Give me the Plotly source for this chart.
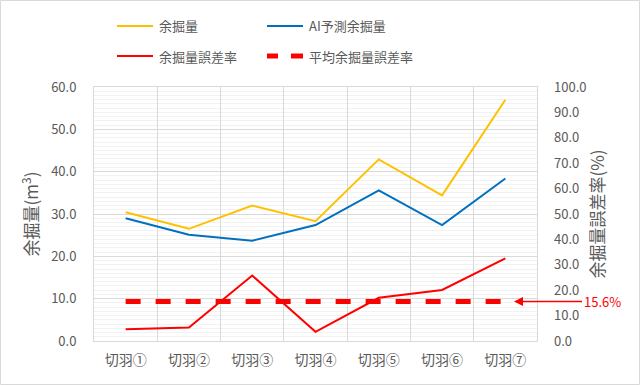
import plotly.graph_objects as go

categories = ["切羽①", "切羽②", "切羽③", "切羽④", "切羽⑤", "切羽⑥", "切羽⑦"]
actual = [30.4, 26.5, 32.0, 28.3, 42.9, 34.4, 57.0]
predicted = [29.0, 25.1, 23.7, 27.4, 35.6, 27.4, 38.4]
error_rate = [4.6, 5.3, 25.8, 3.6, 17.0, 20.1, 32.5]
avg_error = 15.6
avg_line = [avg_error] * len(categories)
series_names = ["余掘量", "AI予測余掘量", "余掘量誤差率", "平均余掘量誤差率"]

W, H = 640, 385
L, R, T, B = 94, 103, 87, 44
pw, ph = W - L - R, H - T - B

def px(x):
    return (x - L) / pw

def py(y):
    return (H - B - y) / ph

font = "Noto Sans CJK JP"
gray = "#595959"
colors = ["#FFC000", "#0070C0", "#FF0000", "#FF0000"]

fig = go.Figure()
fig.add_trace(go.Scatter(x=categories, y=actual, name=series_names[0], mode="lines",
                         line=dict(color=colors[0], width=2)))
fig.add_trace(go.Scatter(x=categories, y=predicted, name=series_names[1], mode="lines",
                         line=dict(color=colors[1], width=2)))
fig.add_trace(go.Scatter(x=categories, y=error_rate, name=series_names[2], mode="lines",
                         line=dict(color=colors[2], width=2), yaxis="y2"))
fig.add_trace(go.Scatter(x=categories, y=avg_line, name=series_names[3], mode="lines",
                         line=dict(color=colors[3], width=5, dash="15px,15px"), yaxis="y2"))

fig.update_layout(
    width=W, height=H,
    margin=dict(l=L, r=R, t=T, b=B),
    paper_bgcolor="white", plot_bgcolor="white",
    font=dict(family=font, color=gray, size=13),
    showlegend=False,
    xaxis=dict(type="category", tickson="boundaries", showgrid=True, gridcolor="#D9D9D9",
               gridwidth=1, showline=True, linecolor="#D9D9D9", mirror=True, ticks="",
               automargin=False, ticklabelstandoff=6,
               tickfont=dict(size=14, color=gray), range=[-0.5, 6.5]),
    yaxis=dict(range=[0, 60], dtick=10, tickformat=".1f", showgrid=True, gridcolor="#D9D9D9",
               gridwidth=1, zeroline=False, showline=True, linecolor="#D9D9D9", mirror=True,
               ticks="", ticklabelstandoff=14, tickfont=dict(size=13, color=gray),
               automargin=False,
               minor=dict(dtick=1, showgrid=True, gridcolor="#F2F2F2", gridwidth=1),
               title=dict(text="余掘量(m<sup>3</sup>)", font=dict(size=17, color=gray), standoff=8)),
    yaxis2=dict(range=[0, 100], dtick=10, tickformat=".1f", overlaying="y", side="right",
                showgrid=False, zeroline=False, ticks="", ticklabelstandoff=16,
                tickfont=dict(size=13, color=gray), automargin=False,
                title=dict(text="余掘量誤差率(%)", font=dict(size=17, color=gray), standoff=6)),
)

# legend (manual, 2x2 layout)
leg_pos = [(117, 26), (267, 26), (117, 56), (267, 56)]
for i, (lx, ly) in enumerate(leg_pos):
    if i < 3:
        fig.add_shape(type="line", xref="paper", yref="paper",
                      x0=px(lx), x1=px(lx + 36), y0=py(ly), y1=py(ly),
                      line=dict(color=colors[i], width=2))
    else:
        for (a, b) in [(lx, lx + 11), (lx + 24, lx + 36)]:
            fig.add_shape(type="line", xref="paper", yref="paper",
                          x0=px(a), x1=px(b), y0=py(ly), y1=py(ly),
                          line=dict(color=colors[i], width=5))
    fig.add_annotation(xref="paper", yref="paper", x=px(lx + 40), y=py(ly),
                       text=series_names[i], showarrow=False, xanchor="left", yanchor="middle",
                       font=dict(size=13, color=gray, family=font))

fig.add_annotation(xref="paper", yref="y2", x=px(514), y=avg_error, ax=88, ay=0,
                   text="15.6%", showarrow=True, arrowhead=2, arrowsize=1.2, arrowwidth=1.5,
                   arrowcolor="#FF0000", font=dict(color="#FF0000", size=13, family=font),
                   xanchor="center")

fig.add_shape(type="rect", xref="paper", yref="paper",
              x0=px(0.5), x1=px(639.5), y0=py(384.5), y1=py(0.5),
              line=dict(color="#D9D9D9", width=1), layer="below")

fig.write_html("out.html", config={"displayModeBar": False},
               post_script="document.body.style.margin='0';document.body.style.overflow='hidden';")
